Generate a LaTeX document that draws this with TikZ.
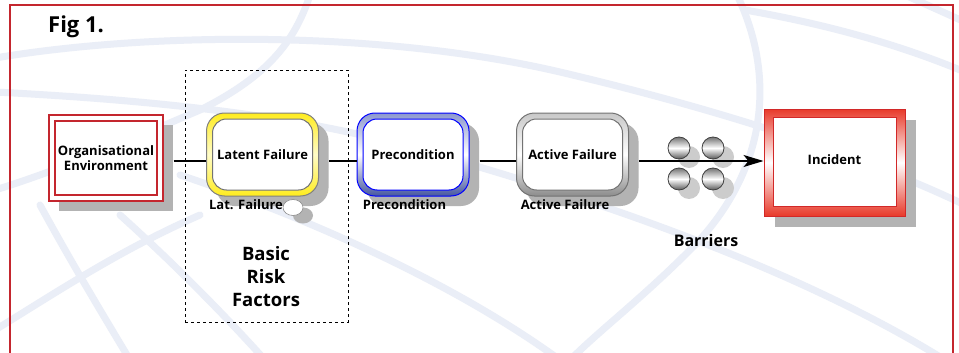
\documentclass[tikz,border=0pt]{standalone}
\usepackage{fontspec}
\setmainfont{Open Sans}
\usetikzlibrary{shadows,arrows.meta,calc,shapes.geometric}
\definecolor{bgline}{RGB}{234,238,247}
\definecolor{framered}{RGB}{196,38,46}
\definecolor{shadowgray}{RGB}{179,179,179}
\definecolor{ylw}{RGB}{255,236,30}
\definecolor{ylwlight}{RGB}{255,252,200}
\definecolor{bluetop}{RGB}{140,152,206}
\definecolor{bluebot}{RGB}{70,86,160}
\definecolor{pureblue}{RGB}{0,0,255}
\definecolor{graytop}{RGB}{200,200,200}
\definecolor{graybot}{RGB}{140,140,140}
\definecolor{incred}{RGB}{232,58,42}
\definecolor{incedge}{RGB}{210,40,40}
\pgfdeclarelayer{bg}
\pgfsetlayers{bg,main}
\tikzset{
  bgl/.style={draw=bgline, line width=7pt, line cap=round},
  shadowed/.style={drop shadow={shadow xshift=#1, shadow yshift=-#1, fill=shadowgray, opacity=1}},
  boxfont/.style={font=\bfseries\fontsize{13}{15.5}\selectfont},
  innerring/.style n args={3}{path picture={
      \draw[draw=#1, line width=1pt, fill=white, rounded corners=#3]
        ([shift={(#2,-#2)}]path picture bounding box.north west) rectangle
        ([shift={(-#2,#2)}]path picture bounding box.south east);}},
  ringbox/.style n args={4}{rectangle, rounded corners=18pt, draw=#1, line width=1pt,
      top color=#2, bottom color=#4, middle color=#3,
      minimum width=112pt, minimum height=83pt, inner sep=0pt, align=center,
      shadowed=10pt, boxfont},
  conn/.style={draw=black, line width=1.3pt},
  lbl/.style={boxfont, inner sep=0pt},
  barrier/.style={circle, minimum size=22pt, inner sep=0pt, draw=black!75, line width=0.8pt,
      top color=black!55, bottom color=black!65, middle color=white,
      drop shadow={shadow xshift=10pt, shadow yshift=-9pt, fill=black!20, opacity=1}},
}
\begin{document}
\begin{tikzpicture}[x=1pt,y=-1pt]
\useasboundingbox (0,0) rectangle (959,353);
\begin{pgfonlayer}{bg}
\begin{scope}
\clip (0,0) rectangle (959,353);
\fill[white] (0,0) rectangle (959,353);
\draw[bgl] (-5,58) .. controls (150,32) and (380,30) .. (560,72) .. controls (700,105) and (850,150) .. (965,205);
\draw[bgl] (737,-5) .. controls (778,80) and (765,175) .. (690,250) .. controls (640,300) and (600,330) .. (570,360);
\draw[bgl] (745,10) .. controls (830,25) and (900,45) .. (965,72);
\draw[bgl] (905,-5) -- (965,22);
\draw[bgl] (-5,92) .. controls (150,100) and (300,115) .. (420,150) .. controls (600,200) and (800,270) .. (945,360);
\draw[bgl] (180,175) .. controls (300,215) and (450,280) .. (560,360);
\draw[bgl] (40,205) .. controls (70,260) and (100,310) .. (130,360);
\draw[bgl] (-5,330) .. controls (60,290) and (120,250) .. (200,215);
\draw[bgl] (120,215) .. controls (170,260) and (220,310) .. (265,360);
\draw[bgl] (310,-5) .. controls (295,40) and (270,75) .. (200,110) .. controls (130,140) and (60,170) .. (-5,190);
\draw[framered, line width=2pt] (10,5) rectangle (953,380);
\end{scope}
\end{pgfonlayer}

\node[anchor=base west, font=\bfseries\fontsize{22}{26}\selectfont, inner sep=0pt] (fig) at (48,33) {Fig 1.};

% dashed group
\node[draw=black, dashed, line width=0.9pt, minimum width=163pt, minimum height=252pt, inner sep=0pt] (grp) at (266.5,196) {};
\node[font=\bfseries\fontsize{18.5}{23}\selectfont, align=center, inner sep=0pt] (brf) at (266,277) {Basic\\Risk\\Factors};

% organisational environment
\node[rectangle, draw=framered, line width=1.3pt, fill=white, minimum width=114pt, minimum height=86pt,
      inner sep=0pt, align=center, shadowed=10pt, boxfont,
      path picture={\draw[framered, line width=1.3pt]
        ([shift={(6pt,-6pt)}]path picture bounding box.north west) rectangle
        ([shift={(-6pt,6pt)}]path picture bounding box.south east);}]
      (org) at (106,158) {Organisational\\Environment};

% rounded boxes
\node[ringbox={black!50}{ylw}{ylwlight}{ylw}, innerring={black!55}{6pt}{14pt}] (lat) at (262.5,154.5) {Latent Failure};
\node[ringbox={pureblue}{bluetop}{white}{bluebot}, innerring={pureblue}{6pt}{14pt}] (pre) at (413,154.5) {Precondition};
\node[ringbox={black!55}{graytop}{white}{graybot}, innerring={black!55}{6pt}{14pt}] (act) at (572.5,154.5) {Active Failure};

% labels under boxes
\node[lbl] (latl) at (246,205) {Lat. Failure};
\node[ellipse, draw=black!45, line width=0.6pt, fill=white, minimum width=20pt, minimum height=16pt, inner sep=0pt,
      drop shadow={shadow xshift=10pt, shadow yshift=-8pt, fill=shadowgray, opacity=1}] (bub) at (293,207.5) {};
\node[lbl] (prel) at (404.5,205) {Precondition};
\node[lbl] (actl) at (565,205) {Active Failure};

% incident
\node[rectangle, draw=incedge, line width=1pt, top color=incred, bottom color=incred, middle color=white,
      minimum width=141pt, minimum height=107pt, inner sep=0pt, shadowed=11pt, boxfont,
      path picture={\draw[draw=incedge, line width=1pt, fill=white]
        ([shift={(9pt,-8pt)}]path picture bounding box.north west) rectangle
        ([shift={(-9pt,10pt)}]path picture bounding box.south east);}]
      (inc) at (834.5,162.5) {\raisebox{6pt}{Incident}};

% barriers
\node[barrier] (b1) at (679,148) {};
\node[barrier] (b2) at (713,148) {};
\node[barrier] (b3) at (679,179) {};
\node[barrier] (b4) at (713,179) {};
\node[font=\bfseries\fontsize{16}{19}\selectfont, inner sep=0pt] (barl) at (706,240) {Barriers};

% connectors
\coordinate (ln) at (0,161);
\draw[conn] ($(org.east |- ln)+(10pt,0pt)$) -- (lat.west |- ln);
\draw[conn] ($(lat.east |- ln)+(10pt,0pt)$) -- (pre.west |- ln);
\draw[conn] ($(pre.east |- ln)+(10pt,0pt)$) -- (act.west |- ln);
\draw[conn, -{Stealth[length=20pt, width=12pt, inset=5pt]}] ($(act.east |- ln)+(10pt,0pt)$) -- (inc.west |- ln);
\end{tikzpicture}
\end{document}
